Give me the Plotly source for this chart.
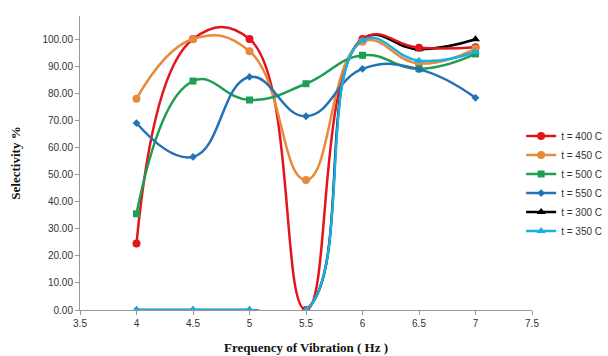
import plotly.graph_objects as go

freq = [4, 4.5, 5, 5.5, 6, 6.5, 7]
series_names = ["t = 400 C", "t = 450 C", "t = 500 C", "t = 550 C", "t = 300 C", "t = 350 C"]
t400 = [24.5, 100.0, 100.0, 0.0, 100.0, 96.8, 97.0]
t450 = [78.0, 100.0, 95.5, 48.0, 99.0, 91.0, 96.5]
t500 = [35.5, 84.5, 77.5, 83.5, 94.0, 89.0, 94.5]
t550 = [69.0, 56.5, 86.0, 71.5, 89.0, 88.8, 78.3]
t300 = [0.0, 0.0, 0.0, 0.0, 100.0, 96.2, 99.9]
t350 = [0.0, 0.0, 0.0, 0.0, 99.5, 92.0, 95.2]

colors = ["#E2141C", "#E68A3C", "#1E9E52", "#2372B6", "#000000", "#1AAEE2"]
symbols = ["circle", "circle", "square", "diamond", "triangle-up", "triangle-up"]
sizes = [8, 8, 7, 6, 8, 8]

fig = go.Figure()
order = [4, 0, 1, 2, 3, 5]
data = [t400, t450, t500, t550, t300, t350]
for i in order:
    fig.add_trace(go.Scatter(
        x=freq, y=data[i], name=series_names[i], mode="lines+markers",
        line=dict(color=colors[i], width=2.5, shape="spline", smoothing=1.3),
        marker=dict(color=colors[i], symbol=symbols[i], size=sizes[i]),
        legendrank=i + 1,
    ))

fig.update_layout(
    width=608, height=356,
    margin=dict(l=80, r=76, t=16, b=46, autoexpand=False),
    paper_bgcolor="white", plot_bgcolor="white",
    showlegend=True,
    legend=dict(x=0.976, y=0.43, xanchor="left", yanchor="middle",
                font=dict(family="Liberation Sans", size=10, color="#333333"),
                itemwidth=30, tracegroupgap=0, bgcolor="rgba(0,0,0,0)"),
    font=dict(family="Liberation Sans", size=10, color="#333333"),
)
fig.update_xaxes(
    range=[3.5, 7.5], dtick=0.5, tick0=3.5, showgrid=False, zeroline=False,
    showline=True, linecolor="#999999", linewidth=1, ticks="outside",
    ticklen=4, tickcolor="#999999",
    title=dict(text="Frequency of Vibration ( Hz )", standoff=14,
               font=dict(family="Liberation Serif", size=13, color="#111111", weight="bold")),
)
fig.update_yaxes(
    range=[0, 108.5], dtick=10, tickformat=".2f", showgrid=False, zeroline=False,
    showline=True, linecolor="#999999", linewidth=1, ticks="outside",
    ticklen=4, tickcolor="#999999",
    title=dict(text="Selectivity %", standoff=18,
               font=dict(family="Liberation Serif", size=13, color="#111111", weight="bold")),
)
fig.write_html("out.html", config={"displayModeBar": False},
               post_script="document.body.style.margin='0';document.body.style.overflow='hidden';")
